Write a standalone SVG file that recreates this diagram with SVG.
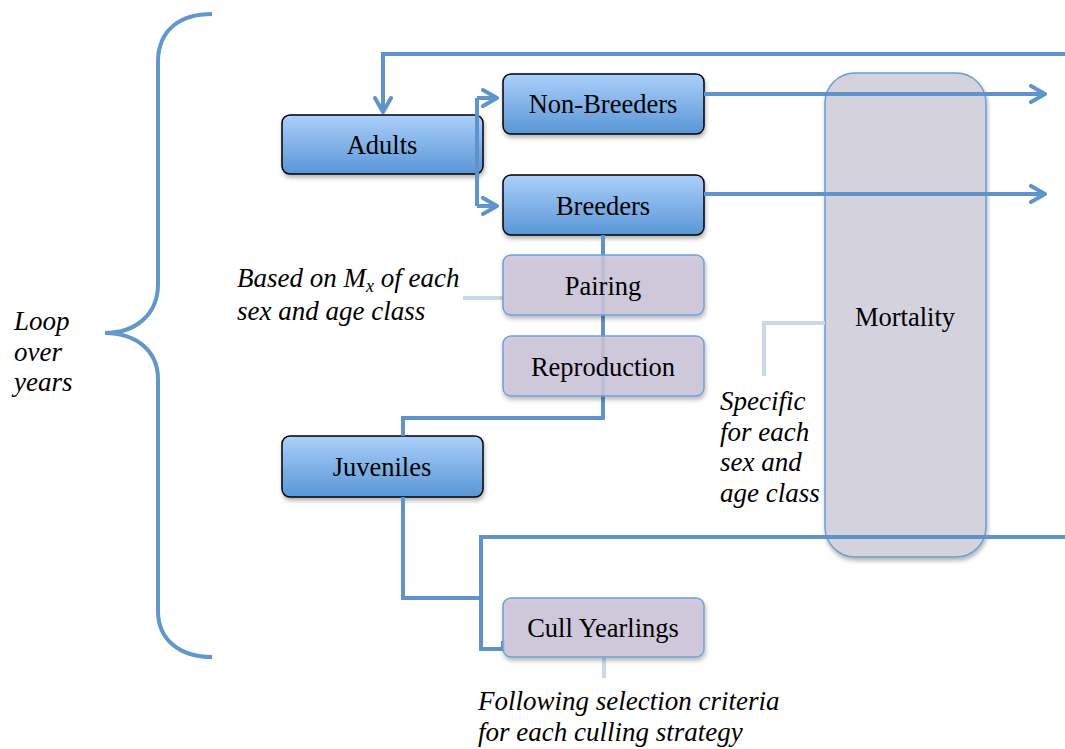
<svg xmlns="http://www.w3.org/2000/svg" width="1065" height="749" viewBox="0 0 1065 749">
<defs>
<linearGradient id="blue" x1="0" y1="0" x2="0" y2="1">
<stop offset="0" stop-color="#abd0fa"/>
<stop offset="1" stop-color="#5996d6"/>
</linearGradient>
<filter id="sh" x="-10%" y="-10%" width="130%" height="140%">
<feDropShadow dx="1" dy="3" stdDeviation="2" flood-color="#000" flood-opacity="0.3"/>
</filter>
<marker id="ah" viewBox="0 0 20 20" refX="17" refY="10" markerWidth="20" markerHeight="20" markerUnits="userSpaceOnUse" orient="auto">
<path d="M3,2 L17,10 L3,18" fill="none" stroke="#5f93ca" stroke-width="4" stroke-linecap="round" stroke-linejoin="round"/>
</marker>
</defs>
<style>
.bn{fill:url(#blue);stroke:#000;stroke-width:1.5;filter:url(#sh)}
.pn{fill:#cdc5da;fill-opacity:0.85;stroke:#6fa0d6;stroke-width:1.5;filter:url(#sh)}
.mn{fill:#d4d2dd;stroke:#6a9dd3;stroke-width:1.5;filter:url(#sh)}
.t{font-family:'Liberation Serif','DejaVu Serif',serif;font-size:26.5px;fill:#000;text-anchor:middle}
.it{font-family:'Liberation Serif','DejaVu Serif',serif;font-size:27px;font-style:italic;fill:#000}
.c{fill:none;stroke:#5f93ca;stroke-width:4;stroke-linejoin:miter}
.a{fill:none;stroke:#c9d9e9;stroke-width:4}
</style>

<g id="brace">
<path d="M212,14 C180,14 158,30 158,62 L158,284 C158,315 135,333 105,333 C135,333 158,350 158,379 L158,611 C158,640 180,657 212,657" fill="none" stroke="#6297cc" stroke-width="4"/>
</g>
<g id="label-loop">
<text class="it" x="14" y="330">Loop</text>
<text class="it" x="14" y="361">over</text>
<text class="it" x="14" y="391">years</text>
</g>

<g id="adults">
<rect class="bn" x="282" y="115" width="201" height="59" rx="8"/>
<text class="t" x="382" y="154">Adults</text>
</g>
<g id="non-breeders">
<rect class="bn" x="503" y="74" width="201" height="60" rx="8"/>
<text class="t" x="603" y="113">Non-Breeders</text>
</g>
<g id="breeders">
<rect class="bn" x="503" y="175" width="201" height="60" rx="8"/>
<text class="t" x="603" y="215">Breeders</text>
</g>
<g id="juveniles">
<rect class="bn" x="282" y="436" width="201" height="61" rx="8"/>
<text class="t" x="382" y="476">Juveniles</text>
</g>
<g id="mortality">
<rect class="mn" x="825" y="73" width="161" height="484" rx="30"/>
<text class="t" x="905" y="326">Mortality</text>
</g>

<g id="connectors">
<path class="c" d="M1065,54 L383,54 L383,112" marker-end="url(#ah)"/>
<path class="c" d="M477,98 L477,206"/>
<path class="c" d="M477,98 L497,98" marker-end="url(#ah)"/>
<path class="c" d="M477,206 L497,206" marker-end="url(#ah)"/>
<path class="c" d="M704,94 L1045,94" marker-end="url(#ah)"/>
<path class="c" d="M704,194 L1045,194" marker-end="url(#ah)"/>
<path class="c" d="M603,235 L603,418 L403,418 L403,436"/>
<path class="c" d="M403,497 L403,598 L481,598"/>
<path class="c" d="M1065,537 L481,537 L481,649 L503,649 L503,641"/>
<path class="a" d="M463,298 L503,298"/>
<path class="a" d="M825,323 L764,323 L764,376"/>
<path class="a" d="M604,658 L604,678"/>
</g>

<g id="pairing">
<rect class="pn" x="503" y="255" width="201" height="60" rx="8"/>
<text class="t" x="603" y="295">Pairing</text>
</g>
<g id="reproduction">
<rect class="pn" x="503" y="336" width="201" height="60" rx="8"/>
<text class="t" x="603" y="376">Reproduction</text>
</g>
<g id="cull-yearlings">
<rect class="pn" x="503" y="598" width="201" height="59" rx="8"/>
<text class="t" x="603" y="637">Cull Yearlings</text>
</g>

<g id="note-pairing">
<text class="it" x="237" y="287">Based on <tspan>M</tspan><tspan font-size="18" dy="5">x</tspan><tspan dy="-5"> of each</tspan></text>
<text class="it" x="237" y="320">sex and age class</text>
</g>
<g id="note-mortality">
<text class="it" x="720" y="410">Specific</text>
<text class="it" x="720" y="441">for each</text>
<text class="it" x="720" y="471">sex and</text>
<text class="it" x="720" y="502">age class</text>
</g>
<g id="note-cull">
<text class="it" x="478" y="710">Following selection criteria</text>
<text class="it" x="478" y="741">for each culling strategy</text>
</g>
</svg>
